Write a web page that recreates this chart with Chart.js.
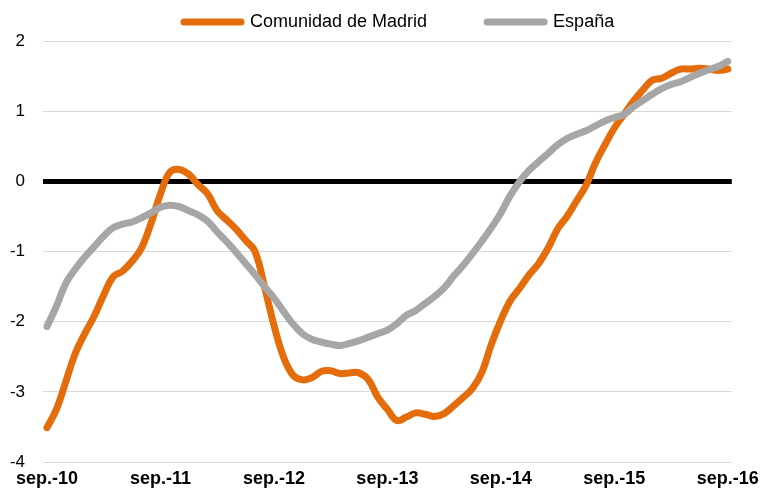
<!DOCTYPE html>
<html>
<head>
<meta charset="utf-8">
<script src="https://cdn.jsdelivr.net/npm/chart.js@4.4.1/dist/chart.umd.min.js"></script>
<style>
html,body{margin:0;padding:0;background:#ffffff;}
#wrap{width:765px;height:496px;}
</style>
</head>
<body>
<div id="wrap"><canvas id="c" width="765" height="496"></canvas></div>
<script>
// Series names
const seriesNames = ['Comunidad de Madrid', 'España'];

// Monthly values, sep-10 .. sep-16 (73 months)
const madrid = [
  -3.51, -3.25, -2.85, -2.45, -2.17, -1.92, -1.62, -1.36, -1.28, -1.14,
  -0.95, -0.60, -0.18, 0.13, 0.17, 0.10, -0.05, -0.18, -0.42, -0.55,
  -0.68, -0.84, -1.00, -1.50, -2.05, -2.50, -2.76, -2.83, -2.80, -2.71,
  -2.70, -2.74, -2.73, -2.73, -2.83, -3.08, -3.25, -3.41, -3.36, -3.30,
  -3.32, -3.35, -3.31, -3.20, -3.08, -2.95, -2.72, -2.32, -1.98, -1.70,
  -1.52, -1.33, -1.17, -0.95, -0.68, -0.50, -0.28, -0.06, 0.26, 0.52,
  0.76, 0.95, 1.14, 1.30, 1.44, 1.47, 1.54, 1.60, 1.60, 1.61,
  1.60, 1.58, 1.60
];
const espana = [
  -2.07, -1.78, -1.45, -1.25, -1.08, -0.93, -0.78, -0.66, -0.61, -0.58,
  -0.52, -0.45, -0.37, -0.34, -0.36, -0.42, -0.48, -0.57, -0.72, -0.86,
  -1.01, -1.17, -1.33, -1.50, -1.66, -1.85, -2.03, -2.17, -2.25, -2.29,
  -2.32, -2.34, -2.31, -2.27, -2.22, -2.17, -2.12, -2.03, -1.91, -1.84,
  -1.74, -1.64, -1.52, -1.35, -1.20, -1.03, -0.85, -0.66, -0.45, -0.20,
  0.00, 0.16, 0.28, 0.40, 0.52, 0.61, 0.67, 0.72, 0.79, 0.86,
  0.91, 0.95, 1.06, 1.15, 1.24, 1.32, 1.38, 1.42, 1.48, 1.54,
  1.59, 1.64, 1.71
];

// X tick labels and their month index
const tickLabels = ['sep.-10', 'sep.-11', 'sep.-12', 'sep.-13', 'sep.-14', 'sep.-15', 'sep.-16'];
const tickMonths = [0, 12, 24, 36, 48, 60, 72];

// Y axis range
const yMin = -4, yMax = 2, yStep = 1;

const FONT = '"Liberation Sans", Arial, Helvetica, sans-serif';
const ORANGE = '#E46C0A';
const GREY = '#A6A6A6';

const toPoints = arr => arr.map((v, i) => ({ x: i, y: v }));

// shift the legend so its first item starts where the reference places it
const LEGEND_START = 184;
const legendShift = {
  id: 'legendShift',
  afterLayout(chart) {
    const lg = chart.legend;
    if (!lg || !lg.lineWidths || !lg.lineWidths.length) return;
    const pad = lg.options.labels.padding;
    const start = (lg.left + pad + lg.right - lg.lineWidths[0]) / 2;
    const dx = LEGEND_START - start;
    lg.left += dx;
    lg.right += dx;
  }
};

const ctx = document.getElementById('c').getContext('2d');
new Chart(ctx, {
  type: 'line',
  data: {
    datasets: [
      {
        label: seriesNames[0],
        data: toPoints(madrid),
        borderColor: ORANGE,
        backgroundColor: ORANGE,
        borderWidth: 7,
        borderCapStyle: 'round',
        borderJoinStyle: 'round',
        pointRadius: 0,
        tension: 0.4,
        order: 2
      },
      {
        label: seriesNames[1],
        data: toPoints(espana),
        borderColor: GREY,
        backgroundColor: GREY,
        borderWidth: 7,
        borderCapStyle: 'round',
        borderJoinStyle: 'round',
        pointRadius: 0,
        tension: 0.4,
        order: 1
      }
    ]
  },
  plugins: [legendShift],
  options: {
    responsive: false,
    devicePixelRatio: 1,
    animation: false,
    layout: { padding: { left: 0, right: 30, top: 3, bottom: 0 } },
    plugins: {
      tooltip: { enabled: false },
      legend: {
        display: true,
        position: 'top',
        align: 'center',
        labels: {
          usePointStyle: true,
          pointStyle: 'line',
          pointStyleWidth: 57,
          boxHeight: 7,
          padding: 10,
          color: '#000000',
          font: { family: FONT, size: 18 },
          sort: (a, b) => a.datasetIndex - b.datasetIndex,
          generateLabels: (chart) => {
            const items = Chart.defaults.plugins.legend.labels.generateLabels(chart);
            items.forEach(it => {
              if (it.datasetIndex === 0) it.text = it.text + '\u00A0'.repeat(10);
              it.lineWidth = 7;
              it.lineCap = 'round';
            });
            return items;
          }
        }
      }
    },
    scales: {
      x: {
        type: 'linear',
        min: -0.42,
        max: 72.42,
        afterBuildTicks: (scale) => { scale.ticks = tickMonths.map(v => ({ value: v })); },
        afterFit: (scale) => { scale.height = 34; },
        grid: { display: false, drawTicks: false },
        border: { display: false },
        ticks: {
          autoSkip: false,
          maxRotation: 0,
          minRotation: 0,
          padding: 6,
          color: '#000000',
          font: { family: FONT, size: 18, weight: 'bold' },
          callback: (value) => {
            const k = tickMonths.indexOf(value);
            return k >= 0 ? tickLabels[k] : '';
          }
        }
      },
      y: {
        min: yMin,
        max: yMax,
        afterFit: (scale) => { scale.width = 43; },
        grid: {
          drawTicks: false,
          color: (c) => (c.tick && c.tick.value === 0 ? '#000000' : '#D9D9D9'),
          lineWidth: (c) => (c.tick && c.tick.value === 0 ? 5 : 1)
        },
        border: { display: false },
        ticks: {
          stepSize: yStep,
          padding: 18,
          color: '#000000',
          font: { family: FONT, size: 17 }
        }
      }
    }
  }
});
</script>
</body>
</html>
